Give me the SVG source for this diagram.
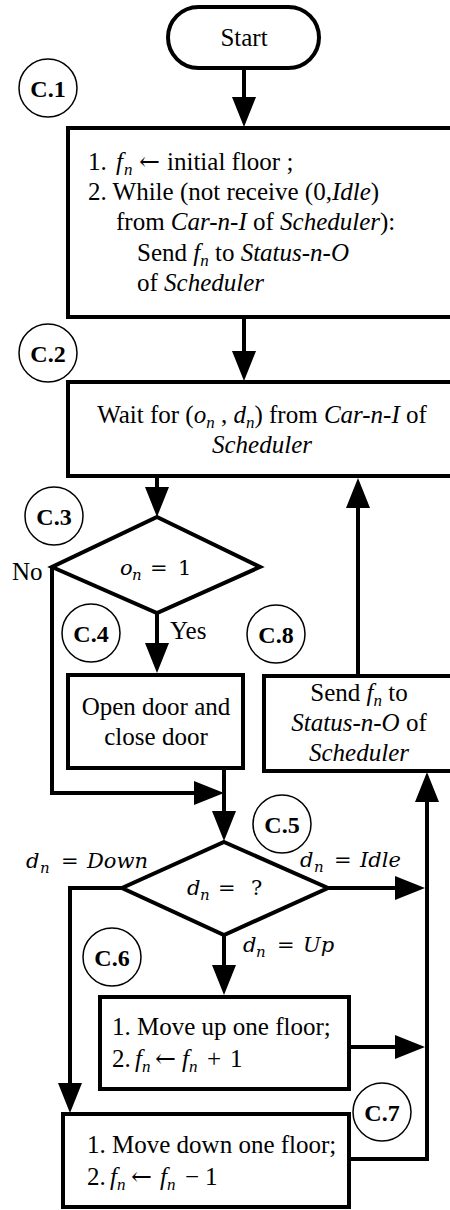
<svg xmlns="http://www.w3.org/2000/svg" width="450" height="1210" viewBox="0 0 450 1210">
  <defs>
    <marker id="ah" viewBox="0 0 30 24" refX="24" refY="12" markerWidth="30" markerHeight="24" markerUnits="userSpaceOnUse" orient="auto">
      <path d="M0,0 L30,12 L0,24 Z" fill="#000"/>
    </marker>
  </defs>
  <style>
    .shape{fill:#fff;stroke:#000;stroke-width:4}
    .tag circle{fill:#fff;stroke:#000;stroke-width:1.5}
    .tag text{font-family:"Liberation Serif",serif;font-weight:bold;font-size:24px;text-anchor:middle;fill:#000}
    .t{font-family:"Liberation Serif",serif;font-size:25px;fill:#000}
    .mid{text-anchor:middle}
    .i{font-style:italic}
    .sub{font-size:17px}
    .arr{font-family:"DejaVu Serif",serif;font-size:25px}
    .m{font-family:"DejaVu Serif",serif;font-size:21px;fill:#000}
    .mi{font-style:italic}
    .ms{font-size:15px}
    .edge{fill:none;stroke:#000;stroke-width:4;marker-end:url(#ah)}
  </style>

  <rect width="450" height="1210" fill="#fff"/>

  <!-- connectors -->
  <g id="connectors">
    <path class="edge" d="M244,68 V121"/>
    <path class="edge" d="M244,317 V375"/>
    <path class="edge" d="M157,476 V511"/>
    <path class="edge" d="M52,567 V793 H218"/>
    <path class="edge" d="M157,613 V667"/>
    <path class="edge" d="M224,768 V835"/>
    <path class="edge" d="M358,676 V484"/>
    <path class="edge" d="M122,888 H70 V1107"/>
    <path class="edge" d="M328,888 H419"/>
    <path class="edge" d="M224,935 V989"/>
    <path class="edge" d="M349,1047 H419"/>
    <path class="edge" d="M349,1159 H427 V778"/>
  </g>

  <!-- branch labels -->
  <g id="labels">
    <text class="t" x="12" y="580">No</text>
    <text class="t" x="170" y="639">Yes</text>
    <text class="m" y="868"><tspan x="26" class="mi">d</tspan><tspan x="40" dy="5" class="mi ms">n</tspan><tspan x="61" dy="-5">=</tspan><tspan x="87" class="mi">Down</tspan></text>
    <text class="m" y="867"><tspan x="300" class="mi">d</tspan><tspan x="314" dy="5" class="mi ms">n</tspan><tspan x="334" dy="-5">=</tspan><tspan x="360" class="mi">Idle</tspan></text>
    <text class="m" y="952"><tspan x="243" class="mi">d</tspan><tspan x="256" dy="5" class="mi ms">n</tspan><tspan x="277" dy="-5">=</tspan><tspan x="303" class="mi">Up</tspan></text>
  </g>

  <!-- nodes -->
  <g id="start">
    <rect class="shape" x="168" y="7" width="151" height="61" rx="30.5"/>
    <text class="t mid" x="244" y="46">Start</text>
  </g>

  <g id="init">
    <rect class="shape" x="68" y="128" width="392" height="189"/>
    <text class="t" y="170"><tspan x="88">1.</tspan><tspan x="116" class="i">f</tspan><tspan x="124" class="i sub" dy="5">n</tspan><tspan x="139" dy="-5" class="arr">←</tspan><tspan x="167">initial floor ;</tspan></text>
    <text class="t" x="88" y="200">2. While (not receive (0,<tspan class="i">Idle</tspan>)</text>
    <text class="t" x="116" y="230">from <tspan class="i">Car-n-I</tspan> of <tspan class="i">Scheduler</tspan>):</text>
    <text class="t" x="137" y="261">Send <tspan class="i">f</tspan><tspan class="i sub" dy="5">n</tspan><tspan dy="-5"> to </tspan><tspan class="i">Status-n-O</tspan></text>
    <text class="t" x="137" y="291">of <tspan class="i">Scheduler</tspan></text>
  </g>

  <g id="wait">
    <rect class="shape" x="68" y="382" width="392" height="94"/>
    <text class="t mid" x="262" y="423">Wait for (<tspan class="i">o</tspan><tspan class="i sub" dy="5">n</tspan><tspan dy="-5"> , </tspan><tspan class="i">d</tspan><tspan class="i sub" dy="5">n</tspan><tspan dy="-5">) from </tspan><tspan class="i">Car-n-I</tspan> of</text>
    <text class="t mid i" x="262" y="453">Scheduler</text>
  </g>

  <g id="check-open">
    <polygon class="shape" points="157,517 260,567 157,613 52,567"/>
    <text class="m" y="575"><tspan x="120" class="mi">o</tspan><tspan x="132" dy="5" class="mi ms">n</tspan><tspan x="150" dy="-5">=</tspan><tspan x="178">1</tspan></text>
  </g>

  <g id="door">
    <rect class="shape" x="68" y="675" width="175" height="93"/>
    <text class="t mid" x="156" y="715">Open door and</text>
    <text class="t mid" x="156" y="745">close door</text>
  </g>

  <g id="report">
    <rect class="shape" x="264" y="676" width="196" height="95"/>
    <text class="t mid" x="359" y="701">Send <tspan class="i">f</tspan><tspan class="i sub" dy="5">n</tspan><tspan dy="-5"> to</tspan></text>
    <text class="t mid" x="359" y="731"><tspan class="i">Status-n-O</tspan> of</text>
    <text class="t mid i" x="359" y="761">Scheduler</text>
  </g>

  <g id="check-dir">
    <polygon class="shape" points="224,842 328,888 224,935 122,888"/>
    <text class="m" y="895"><tspan x="187" class="mi">d</tspan><tspan x="200" dy="5" class="mi ms">n</tspan><tspan x="218" dy="-5">=</tspan><tspan x="251">?</tspan></text>
  </g>

  <g id="move-up">
    <rect class="shape" x="100" y="997" width="249" height="92"/>
    <text class="t" x="112" y="1035">1. Move up one floor;</text>
    <text class="t" y="1067"><tspan x="112">2.</tspan><tspan x="135" class="i">f</tspan><tspan x="142" class="i sub" dy="5">n</tspan><tspan x="155" dy="-5" class="arr">←</tspan><tspan x="182" class="i">f</tspan><tspan x="189" class="i sub" dy="5">n</tspan><tspan x="207" dy="-5">+</tspan><tspan x="230">1</tspan></text>
  </g>

  <g id="move-down">
    <rect class="shape" x="63" y="1114" width="286" height="93"/>
    <text class="t" x="87" y="1153">1. Move down one floor;</text>
    <text class="t" y="1185"><tspan x="87">2.</tspan><tspan x="110" class="i">f</tspan><tspan x="117" class="i sub" dy="5">n</tspan><tspan x="131" dy="-5" class="arr">←</tspan><tspan x="160" class="i">f</tspan><tspan x="167" class="i sub" dy="5">n</tspan><tspan x="185" dy="-5">−</tspan><tspan x="205">1</tspan></text>
  </g>

  <!-- step tags -->
  <g id="tag-c1" class="tag"><circle cx="48" cy="88" r="29"/><text x="48" y="97">C.1</text></g>
  <g id="tag-c2" class="tag"><circle cx="48" cy="353" r="29"/><text x="48" y="362">C.2</text></g>
  <g id="tag-c3" class="tag"><circle cx="54" cy="516" r="29"/><text x="54" y="525">C.3</text></g>
  <g id="tag-c4" class="tag"><circle cx="91" cy="633" r="29"/><text x="91" y="642">C.4</text></g>
  <g id="tag-c8" class="tag"><circle cx="276" cy="634" r="29"/><text x="276" y="643">C.8</text></g>
  <g id="tag-c5" class="tag"><circle cx="282" cy="824" r="29"/><text x="282" y="833">C.5</text></g>
  <g id="tag-c6" class="tag"><circle cx="112" cy="957" r="29"/><text x="112" y="966">C.6</text></g>
  <g id="tag-c7" class="tag"><circle cx="382" cy="1112" r="29"/><text x="382" y="1121">C.7</text></g>
</svg>
